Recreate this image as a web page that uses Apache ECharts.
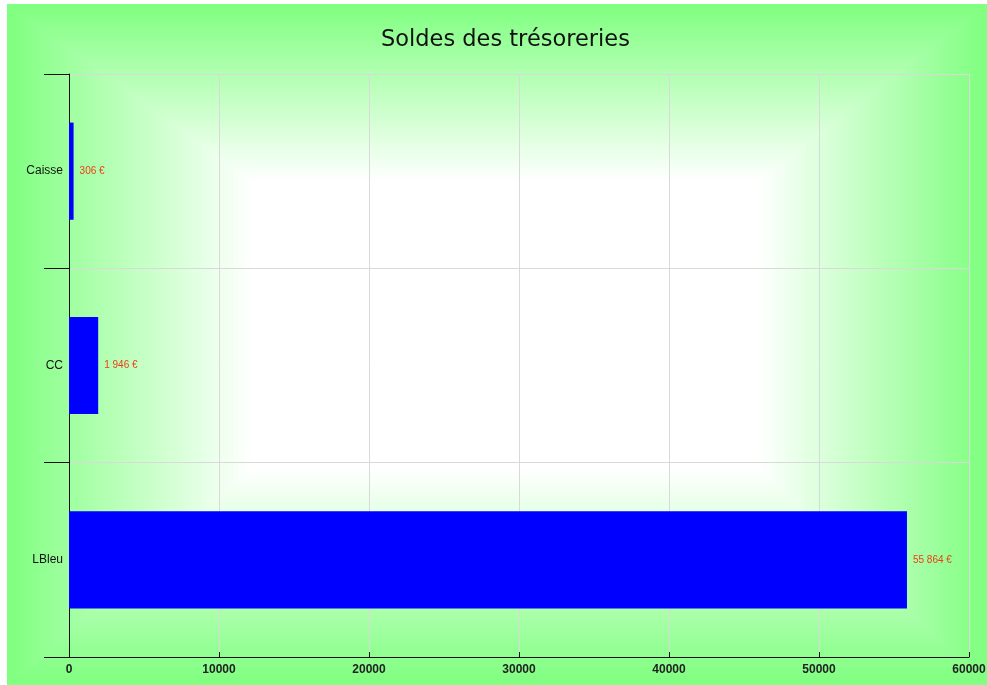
<!DOCTYPE html>
<html>
<head>
<meta charset="utf-8">
<script src="https://cdn.jsdelivr.net/npm/echarts@6/dist/echarts.min.js"></script>
<style>
html,body{margin:0;padding:0;background:#fff;}
#chart{width:987px;height:685px;}
</style>
</head>
<body>
<div id="chart"></div>
<script>
var titleText = 'Soldes des trésoreries';
var categories = ['Caisse', 'CC', 'LBleu'];
var values = [306, 1946, 55864];
var xTicks = {min: 0, max: 60000, interval: 10000};

function fmtEuro(v) {
  return String(v).replace(/\B(?=(\d{3})+(?!\d))/g, ' ') + ' €';
}

// box-gradient background (green edges -> white centre)
var bg = [];
var N = 60;
var x0 = 7, y0 = 4, x1 = 987, y1 = 685;
var inL = 243, inT = 176, inR = 227, inB = 215;
for (var i = 0; i <= N; i++) {
  var t = i / N;
  var r = Math.round(128 + (255 - 128) * t);
  var lx = x0 + inL * t, ty = y0 + inT * t;
  var rx = x1 - inR * t, by = y1 - inB * t;
  bg.push({
    type: 'rect', silent: true, z: -100 + i,
    shape: {x: lx, y: ty, width: rx - lx, height: by - ty},
    style: {fill: 'rgb(' + r + ',255,' + r + ')'}
  });
}

var narrow = "'Liberation Sans Narrow', 'Arial Narrow', 'Liberation Sans', Arial, sans-serif";

var chart = echarts.init(document.getElementById('chart'), null, {renderer: 'canvas'});
chart.setOption({
  animation: false,
  backgroundColor: '#ffffff',
  graphic: {elements: bg},
  title: {
    text: titleText,
    left: 376, top: 24,
    textStyle: {fontFamily: "'DejaVu Sans', Verdana, sans-serif", fontSize: 22.5, fontWeight: 'normal', color: '#111'}
  },
  grid: {left: 69, right: 18, top: 74, bottom: 28, containLabel: false, outerBoundsMode: 'none'},
  xAxis: {
    type: 'value', min: xTicks.min, max: xTicks.max, interval: xTicks.interval,
    axisLine: {show: true, lineStyle: {color: '#111', width: 1}},
    axisTick: {show: true, inside: true, length: 5, lineStyle: {color: '#111'}},
    axisLabel: {color: '#222', fontFamily: narrow, fontSize: 12, fontWeight: 'bold', margin: 7,
      formatter: function (v) { return String(v); }},
    splitLine: {show: true, lineStyle: {color: '#d9d9d9', width: 1}}
  },
  yAxis: {
    type: 'category', data: categories, inverse: true,
    axisLine: {show: true, lineStyle: {color: '#111', width: 1}},
    axisTick: {show: true, length: 25, lineStyle: {color: '#111'}},
    axisLabel: {color: '#111', fontFamily: narrow, fontSize: 12, margin: 6},
    splitLine: {show: true, lineStyle: {color: '#d9d9d9', width: 1}}
  },
  series: [{
    type: 'bar', data: values, barWidth: '50%',
    itemStyle: {color: '#0000ff'},
    label: {
      show: true, position: 'right', distance: 6,
      color: '#f03c14', fontFamily: narrow, fontSize: 10,
      formatter: function (p) { return fmtEuro(p.value); }
    }
  }]
});
</script>
</body>
</html>
